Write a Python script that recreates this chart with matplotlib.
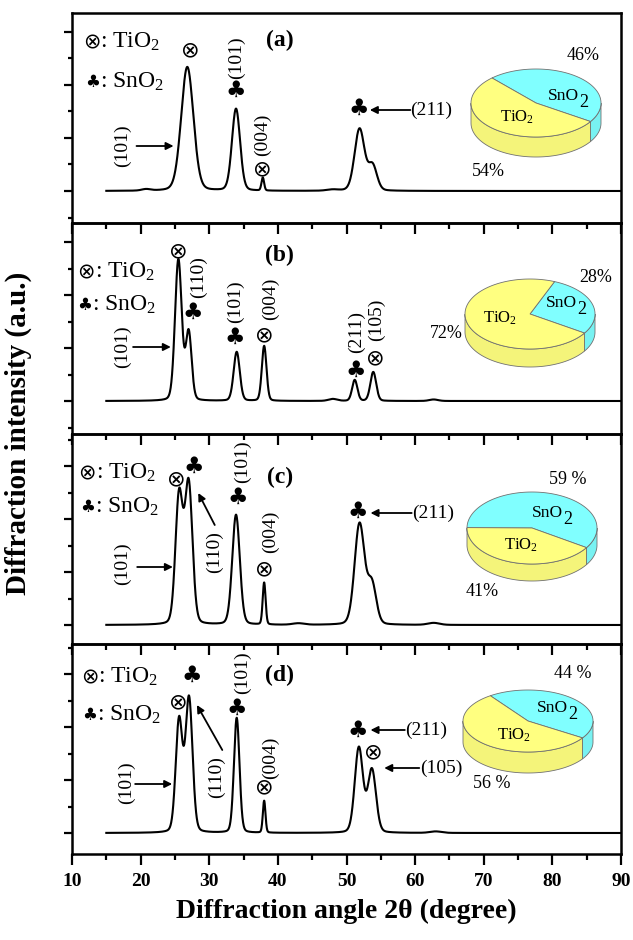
import numpy as np
import matplotlib
matplotlib.use('Agg')
import matplotlib.pyplot as plt
from matplotlib.patches import Polygon
from matplotlib.ticker import MultipleLocator

plt.rcParams['font.family'] = ['Liberation Serif', 'DejaVu Serif']
plt.rcParams['mathtext.fontset'] = 'custom'
plt.rcParams['mathtext.rm'] = 'Liberation Serif'
plt.rcParams['mathtext.it'] = 'Liberation Serif:italic'
plt.rcParams['mathtext.bf'] = 'Liberation Serif:bold'

# ---------------- data ----------------
panel_labels = ['(a)', '(b)', '(c)', '(d)']
x_start, x_end = 15, 90

pos_a = [20.8, 26.8, 33.9, 37.8, 48.0, 51.9, 53.8]
hgt_a = [1.5, 124, 82, 13, 1.2, 62, 25]
wid_a = [1.5, 2.1, 1.4, 0.45, 2.0, 1.7, 1.5]

pos_b = [25.5, 27.0, 34.0, 38.0, 48.0, 51.2, 53.9, 62.7]
hgt_b = [141, 68, 49, 55, 2.0, 21, 29, 1.5]
wid_b = [1.15, 1.0, 1.05, 0.8, 1.5, 0.9, 1.0, 1.5]

pos_c = [25.6, 27.0, 33.9, 38.0, 43.0, 51.9, 53.7, 62.7]
hgt_c = [128, 140, 110, 42, 1.5, 101, 40, 2.0]
wid_c = [1.25, 1.3, 1.3, 0.5, 2.0, 1.7, 1.5, 2.0]

pos_d = [25.6, 27.05, 34.0, 38.0, 51.8, 53.7, 63.0]
hgt_d = [112, 134, 115, 32, 85, 63, 1.5]
wid_d = [1.15, 1.2, 0.95, 0.45, 1.4, 1.4, 2.0]

sno2_pct = [46, 28, 59, 44]
tio2_pct = [54, 72, 41, 56]
sno2_pct_text = ['46%', '28%', '59 %', '44 %']
tio2_pct_text = ['54%', '72%', '41%', '56 %']

peaks = [(pos_a, hgt_a, wid_a), (pos_b, hgt_b, wid_b),
         (pos_c, hgt_c, wid_c), (pos_d, hgt_d, wid_d)]

# ---------------- helpers ----------------
def pseudo_voigt(x, x0, h, w, eta=0.15):
    d = (x - x0) / w
    g = np.exp(-4 * np.log(2) * d ** 2)
    l = 1.0 / (1 + 4 * d ** 2)
    return h * (eta * l + (1 - eta) * g)


def pattern(x, pos, hgt, wid):
    y = np.zeros_like(x)
    for p, h, w in zip(pos, hgt, wid):
        y += pseudo_voigt(x, p, h, w)
    return y

W, H = 633, 940
fig = plt.figure(figsize=(W / 100, H / 100), dpi=100)

left_px, right_px = 72, 621
panel_px = [(13, 223, 191), (223, 434, 401), (434, 644, 625), (644, 854, 833)]

SYM = ['DejaVu Sans']
OT, CL = '\u2297', '\u2663'

axes = []
for i, (top, bot, base) in enumerate(panel_px):
    ax = fig.add_axes([left_px / W, 1 - bot / H, (right_px - left_px) / W, (bot - top) / H])
    ax.set_facecolor('none')
    x = np.linspace(x_start, x_end, 3000)
    pos, hgt, wid = peaks[i]
    ax.plot(x, pattern(x, pos, hgt, wid), color='black', lw=1.5)
    ax.set_xlim(10, 90)
    ax.set_ylim(-(bot - base), base - top)
    ax.xaxis.set_major_locator(MultipleLocator(10))
    ax.xaxis.set_minor_locator(MultipleLocator(5))
    ax.yaxis.set_major_locator(MultipleLocator(53))
    ax.yaxis.set_minor_locator(MultipleLocator(26.5))
    ax.tick_params(axis='x', which='major', direction='out', length=8, width=1.6, pad=6,
                   labelsize=14, top=False)
    ax.tick_params(axis='x', which='minor', direction='out', length=4, width=1.6, top=False)
    ax.tick_params(axis='y', which='major', direction='out', length=5.5, width=1.6,
                   labelleft=False, right=False)
    ax.tick_params(axis='y', which='minor', direction='out', length=3, width=1.6, right=False)
    for s in ax.spines.values():
        s.set_linewidth(1.8)
    if i < 3:
        ax.tick_params(axis='x', labelbottom=False)
    else:
        for lab in ax.get_xticklabels():
            lab.set_fontweight('bold')
    ax.text(40.3, [151, 146, 148, 158][i], panel_labels[i], ha='center', va='center',
            fontsize=17, fontweight='bold')
    axes.append(ax)

ax4 = axes[3]
ax4.set_xlabel('Diffraction angle 2\u03b8 (degree)', fontsize=20, fontweight='bold', labelpad=6)
fig.text(18 / W, 1 - 433 / H, 'Diffraction intensity (a.u.)', rotation=90, ha='center',
         va='center', fontsize=21, fontweight='bold')

# legends
leg_pos = [((11.6, 149), (11.9, 109)), ((10.8, 129), (10.8, 96)),
           ((10.9, 152), (11.2, 118)), ((11.3, 156), (11.5, 118))]
for ax, ((xt, yt), (xs, ys)) in zip(axes, leg_pos):
    ax.text(xt, yt, OT, family=SYM, fontsize=15, ha='left', va='center')
    ax.text(xt + 2.55, yt, ': TiO$_2$', fontsize=17, ha='left', va='center')
    ax.text(xs, ys, CL, family=SYM, fontsize=12, ha='left', va='center')
    ax.text(xs + 2.15, ys, ': SnO$_2$', fontsize=17, ha='left', va='center')

def sym(ax, s, x, y, size=None):
    if size is None:
        size = 16 if s == OT else 16.5
    ax.text(x, y, s, family=SYM, fontsize=size, ha='center', va='center')

def vlab(ax, s, x, y):
    ax.text(x, y, s, rotation=90, fontsize=14, ha='center', va='center')

def arrow(ax, tail, head):
    ax.annotate('', xy=head, xytext=tail,
                arrowprops=dict(arrowstyle='-|>', color='black', lw=1.3,
                                mutation_scale=11, shrinkA=0, shrinkB=0))

def hlab(ax, s, x, y):
    ax.text(x, y, s, fontsize=14, ha='left', va='center')

# panel a
ax = axes[0]
vlab(ax, '(101)', 17.4, 45); arrow(ax, (19.4, 45), (24.8, 45))
sym(ax, OT, 27.3, 141)
sym(ax, CL, 33.9, 101); vlab(ax, '(101)', 34.0, 133)
sym(ax, OT, 37.8, 22); vlab(ax, '(004)', 37.8, 56)
sym(ax, CL, 51.8, 83); arrow(ax, (59.3, 81), (53.4, 81)); hlab(ax, '(211)', 59.3, 81)

# panel b
ax = axes[1]
vlab(ax, '(101)', 17.4, 54); arrow(ax, (18.9, 54), (24.4, 54))
sym(ax, OT, 25.45, 150)
vlab(ax, '(110)', 28.4, 124); sym(ax, CL, 27.6, 89)
vlab(ax, '(101)', 33.75, 99); sym(ax, CL, 33.75, 64)
vlab(ax, '(004)', 38.85, 102); sym(ax, OT, 38.0, 66)
vlab(ax, '(211)', 51.5, 69); sym(ax, CL, 51.4, 31)
sym(ax, OT, 54.15, 43); vlab(ax, '(105)', 54.4, 81)

# panel c
ax = axes[2]
vlab(ax, '(101)', 17.3, 61); arrow(ax, (19.5, 58), (24.7, 58))
sym(ax, OT, 25.2, 146); sym(ax, CL, 27.7, 159)
vlab(ax, '(110)', 30.7, 73); arrow(ax, (30.8, 100), (28.4, 132))
vlab(ax, '(101)', 34.9, 163); sym(ax, CL, 34.2, 128)
vlab(ax, '(004)', 38.85, 93); sym(ax, OT, 38.0, 56)
sym(ax, CL, 51.7, 114); arrow(ax, (59.5, 112), (53.5, 112)); hlab(ax, '(211)', 59.5, 112)

# panel d
ax = axes[3]
vlab(ax, '(101)', 18.0, 50); arrow(ax, (19.2, 49), (24.6, 49))
sym(ax, OT, 25.45, 131); sym(ax, CL, 27.5, 158)
vlab(ax, '(110)', 31.1, 56); arrow(ax, (31.9, 83), (28.2, 128))
vlab(ax, '(101)', 34.8, 160); sym(ax, CL, 34.0, 125)
vlab(ax, '(004)', 38.85, 75); sym(ax, OT, 38.0, 46)
sym(ax, CL, 51.7, 103); arrow(ax, (58.5, 103), (53.5, 103)); hlab(ax, '(211)', 58.6, 103)
sym(ax, OT, 53.9, 81)
arrow(ax, (60.6, 65), (55.5, 65)); hlab(ax, '(105)', 60.7, 65)

# ---------------- 3D pies on overlay (pixel coordinates) ----------------
ov = fig.add_axes([0, 0, 1, 1])
ov.set_xlim(0, W)
ov.set_ylim(H, 0)
ov.axis('off')
ov.patch.set_alpha(0)

CY_TOP, CY_SIDE = '#80FFFF', '#78F2F2'
YE_TOP, YE_SIDE = '#FFFF80', '#F4F47A'
EDGE = '#707070'

def pie3d(cx, cy, R, ry, h, frac_sn, start=-33.0):
    a0 = np.deg2rad(start)
    a1 = a0 + 2 * np.pi * frac_sn / 100.0
    a2 = a0 + 2 * np.pi
    slices = [(a0, a1, CY_TOP, CY_SIDE), (a1, a2, YE_TOP, YE_SIDE)]
    for a, b, ct, cs in slices:
        t = np.linspace(a, b, 600)
        front = np.sin(t) <= 0
        idx = np.where(front)[0]
        if len(idx) == 0:
            continue
        runs = np.split(idx, np.where(np.diff(idx) > 1)[0] + 1)
        for r in runs:
            tt = t[r]
            xs = cx + R * np.cos(tt)
            ys = cy - ry * np.sin(tt)
            pts = np.concatenate([np.column_stack([xs, ys]),
                                  np.column_stack([xs[::-1], ys[::-1] + h])])
            ov.add_patch(Polygon(pts, closed=True, facecolor=cs, edgecolor=EDGE, lw=0.6))
    for a, b, ct, cs in slices:
        t = np.linspace(a, b, 400)
        xs = cx + R * np.cos(t)
        ys = cy - ry * np.sin(t)
        pts = np.vstack([[cx, cy], np.column_stack([xs, ys])])
        ov.add_patch(Polygon(pts, closed=True, facecolor=ct, edgecolor=EDGE, lw=0.6))

pie_geom = [(536, 103, 65, 34, 20), (530, 314, 65, 35, 18),
            (532, 528, 65, 36, 17), (528, 721, 65, 31, 21)]
for (cx, cy, R, ry, h), f in zip(pie_geom, sno2_pct):
    pie3d(cx, cy, R, ry, h, f)

def sno2(xj, yb, size=12.5):
    ov.text(xj, yb, 'SnO', fontsize=size, ha='right', va='baseline')
    ov.text(xj, yb + 7, '2', fontsize=size * 1.05, ha='left', va='baseline')

sn_lab = [(579, 100), (577, 307), (563, 517), (568, 712)]
ti_lab = [(517, 117), (500, 318), (521, 545), (514, 735)]
sn_pct_pos = [(583, 55), (596, 277), (568, 480), (573, 673)]
ti_pct_pos = [(488, 172), (446, 333), (482, 591), (492, 784)]
for i in range(4):
    sno2(*sn_lab[i])
    ov.text(*ti_lab[i], 'TiO$_2$', fontsize=12, ha='center', va='center')
    ov.text(*sn_pct_pos[i], sno2_pct_text[i], fontsize=13, ha='center', va='center')
    ov.text(*ti_pct_pos[i], tio2_pct_text[i], fontsize=13, ha='center', va='center')

fig.savefig('out.png', dpi=100)
